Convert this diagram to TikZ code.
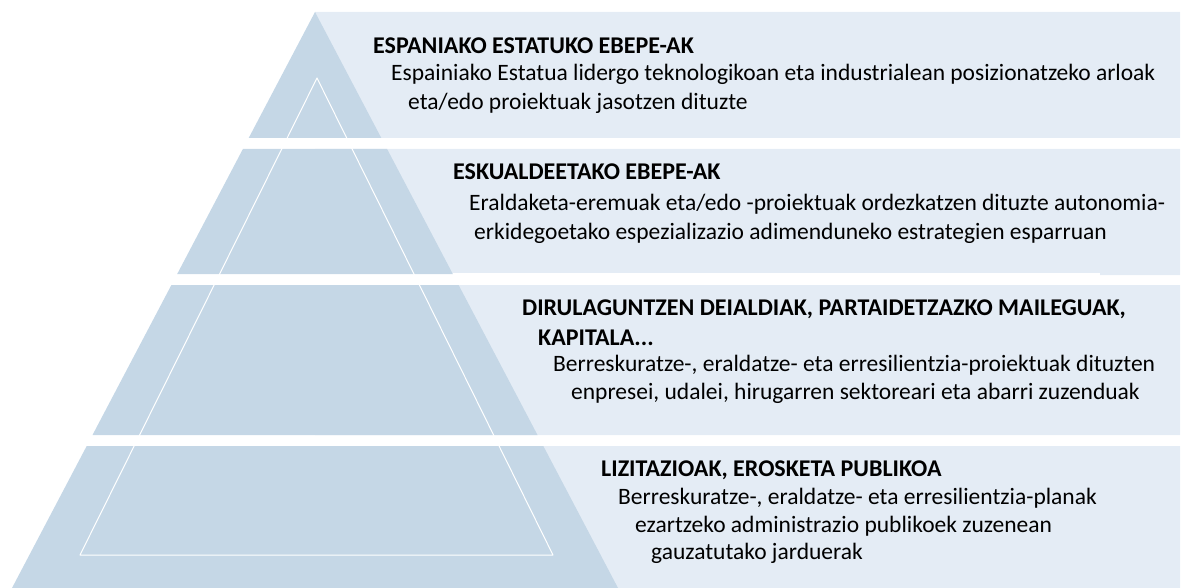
\documentclass[tikz,border=0pt]{standalone}
\usepackage{fontspec}
\setmainfont{Carlito}
\definecolor{pyrblue}{RGB}{197,215,230}
\definecolor{bandblue}{RGB}{228,236,245}
\begin{document}
\begin{tikzpicture}[x=1pt,y=-1pt,line join=round,
	txt/.style={anchor=base west,inner sep=0pt,font=\fontsize{23.5}{29}\selectfont},
	head/.style={txt,font=\fontsize{24}{29}\selectfont\bfseries}]
			\useasboundingbox (0,0) rectangle (1181,588);
			% light bands behind the pyramid
			\fill[bandblue]
			(315,12) rectangle (1180,138)
			(315,149) rectangle (1180,273)
			(1100,273) rectangle (1180,275)
			(315,285) rectangle (1180,435)
			(315,446) rectangle (1180,588)
			;
			% pyramid levels
			\fill[pyrblue]
			(315,12)--(248.7,138)--(381.3,138)--cycle
			(242.9,149)--(177.2,274)--(452.8,274)--(387.1,149)--cycle
			(171.4,285)--(92.5,435)--(537.5,435)--(458.6,285)--cycle
			(86.7,446)--(12,588)--(618,588)--(543.3,446)--cycle
			;
			\draw[white,line width=1pt]
			(317,78)--(80,555)--(553,555)--cycle
			;
			% level 1
			\node[head] (h1) at (373,54) {ESPANIAKO ESTATUKO EBEPE-AK};
			\node[txt] (t1a) at (391,81) {Espainiako Estatua lidergo teknologikoan eta industrialean posizionatzeko arloak};
			\node[txt] (t1b) at (408,110) {eta/edo proiektuak jasotzen dituzte};
			% level 2
			\node[head] (h2) at (453,180) {ESKUALDEETAKO EBEPE-AK};
			\node[txt] (t2a) at (469,211) {Eraldaketa-eremuak eta/edo -proiektuak ordezkatzen dituzte autonomia-};
			\node[txt] (t2b) at (474,240) {erkidegoetako espezializazio adimenduneko estrategien esparruan};
			% level 3
			\node[head] (h3a) at (522,315) {DIRULAGUNTZEN DEIALDIAK, PARTAIDETZAZKO MAILEGUAK,};
			\node[head] (h3b) at (538,345) {KAPITALA...};
			\node[txt] (t3a) at (553,371) {Berreskuratze-, eraldatze- eta erresilientzia-proiektuak dituzten};
			\node[txt] (t3b) at (571,399) {enpresei, udalei, hirugarren sektoreari eta abarri zuzenduak};
			% level 4
			\node[head] (h4) at (601,476) {LIZITAZIOAK, EROSKETA PUBLIKOA};
			\node[txt] (t4a) at (618,504) {Berreskuratze-, eraldatze- eta erresilientzia-planak};
			\node[txt] (t4b) at (635,532) {ezartzeko administrazio publikoek zuzenean};
			\node[txt] (t4c) at (651,559) {gauzatutako jarduerak};
		\end{tikzpicture}
\end{document}
